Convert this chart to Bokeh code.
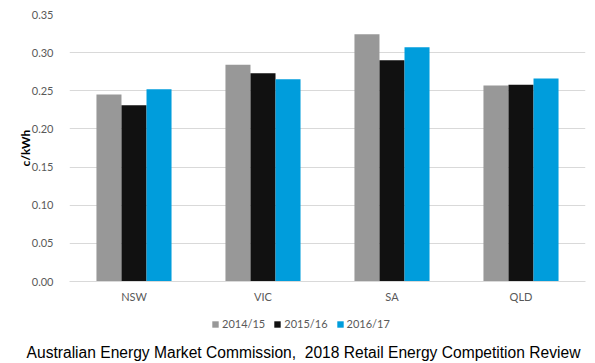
from bokeh.plotting import figure
from bokeh.layouts import column
from bokeh.models import (ColumnDataSource, FactorRange, Range1d, Legend, LegendItem,
                          Div, NumeralTickFormatter, FixedTicker)
from bokeh.transform import dodge
from bokeh.embed import file_html
from bokeh.resources import INLINE

regions = ["NSW", "VIC", "SA", "QLD"]
years = ["2014/15", "2015/16", "2016/17"]
v_2014_15 = [0.245, 0.284, 0.324, 0.257]
v_2015_16 = [0.231, 0.273, 0.290, 0.258]
v_2016_17 = [0.252, 0.265, 0.307, 0.266]
y_ticks = [0.0, 0.05, 0.10, 0.15, 0.20, 0.25, 0.30, 0.35]
colors = ["#989898", "#111111", "#009DDC"]
footer_text = "Australian Energy Market Commission,&nbsp; 2018 Retail Energy Competition Review"

src = ColumnDataSource(dict(region=regions, a=v_2014_15, b=v_2015_16, c=v_2016_17))

p = figure(x_range=FactorRange(*regions, range_padding=0), y_range=Range1d(0, 0.35),
           width=None, height=None, frame_width=516, frame_height=267,
           output_backend="svg", toolbar_location=None,
           min_border_left=69, min_border_right=10, min_border_top=14, min_border_bottom=24)
p.outline_line_color = None

bw = 0.194
for key, off, col in zip(["a", "b", "c"], [-bw, 0, bw], colors):
    p.vbar(x=dodge("region", off, range=p.x_range), top=key, width=bw, source=src,
           fill_color=col, line_color=None)

tick_font = "Lato"
p.yaxis.ticker = FixedTicker(ticks=y_ticks)
p.yaxis.formatter = NumeralTickFormatter(format="0.00")
p.yaxis.axis_line_color = None
p.yaxis.major_tick_line_color = None
p.yaxis.minor_tick_line_color = None
p.yaxis.major_label_text_font = tick_font
p.yaxis.major_label_text_font_size = "11px"
p.yaxis.major_label_text_color = "#595959"
p.yaxis.major_label_standoff = 10
p.yaxis.axis_label = "c/kWh"
p.yaxis.axis_label_text_font = tick_font
p.yaxis.axis_label_text_font_size = "12px"
p.yaxis.axis_label_text_font_style = "bold"
p.yaxis.axis_label_text_color = "#000000"
p.yaxis.axis_label_standoff = -4

p.xaxis.axis_line_color = "#d9d9d9"
p.xaxis.major_tick_line_color = None
p.xaxis.minor_tick_line_color = None
p.xaxis.major_label_text_font = tick_font
p.xaxis.major_label_text_font_size = "11px"
p.xaxis.major_label_text_color = "#595959"
p.xaxis.major_label_standoff = 2

p.xgrid.grid_line_color = None
p.ygrid.grid_line_color = "#d9d9d9"
p.ygrid.ticker = FixedTicker(ticks=y_ticks)

# Legend strip underneath the chart
q = figure(x_range=Range1d(0, 1), y_range=Range1d(0, 1), width=595, height=29,
           output_backend="svg", toolbar_location=None,
           x_axis_location=None, y_axis_location=None,
           min_border_left=69, min_border_right=10, min_border_top=0, min_border_bottom=0)
q.outline_line_color = None
q.xgrid.grid_line_color = None
q.ygrid.grid_line_color = None
swatch = ColumnDataSource(dict(x=[0.5], top=[0.0]))
items = []
for col, yr in zip(colors, years):
    r = q.vbar(x="x", top="top", width=0, source=swatch, fill_color=col, line_color=None)
    items.append(LegendItem(label=yr, renderers=[r]))

legend = Legend(items=items, orientation="horizontal", location=(142, 4),
                label_text_font=tick_font, label_text_font_size="11px",
                label_text_color="#595959", glyph_width=8, glyph_height=8,
                spacing=8, label_standoff=3, padding=2, margin=0,
                border_line_color=None, background_fill_alpha=0)
q.add_layout(legend, "center")

footer = Div(text=footer_text, width=595, height=29,
             styles={"font-family": "'Liberation Sans', Arial, sans-serif",
                     "font-size": "15.6px", "color": "#000000", "text-align": "center",
                     "line-height": "18px", "padding-top": "5px", "padding-left": "2px",
                     "box-sizing": "border-box", "white-space": "nowrap"})

layout = column(p, q, footer, spacing=0)
open("out.html", "w").write(file_html(layout, INLINE))
